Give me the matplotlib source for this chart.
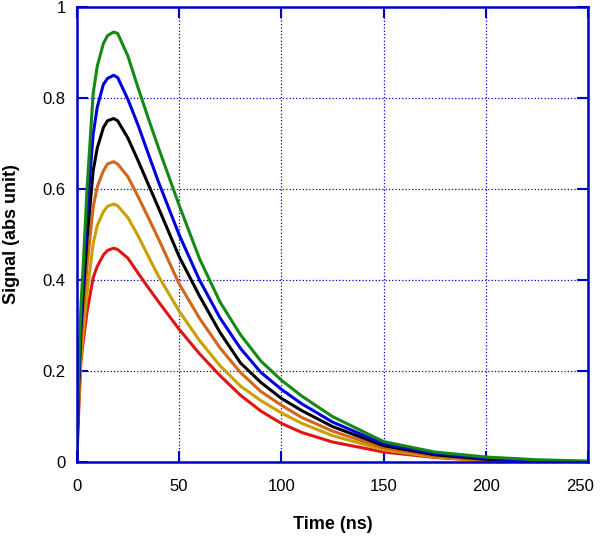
import numpy as np
import matplotlib.pyplot as plt
import matplotlib.transforms as mtrans

plt.rcParams['font.family'] = ['Liberation Sans', 'DejaVu Sans']

# time samples (ns)
t = [0, 1, 2, 3, 5, 8, 10, 13, 15, 18, 20, 25, 30, 35, 40, 50, 60, 70, 80,
     90, 100, 110, 125, 150, 175, 200, 225, 250]

red = [0, 0.12, 0.22, 0.26, 0.33, 0.405, 0.43, 0.455, 0.465, 0.47, 0.467,
       0.448, 0.415, 0.383, 0.352, 0.292, 0.238, 0.19, 0.147, 0.112, 0.085,
       0.065, 0.044, 0.022, 0.01, 0.003, 0.0, 0.0]
gold = [0, 0.14, 0.23, 0.28, 0.37, 0.48, 0.52, 0.55, 0.562, 0.567, 0.563,
        0.537, 0.497, 0.452, 0.408, 0.332, 0.267, 0.212, 0.167, 0.135, 0.108,
        0.085, 0.058, 0.027, 0.011, 0.003, 0.001, 0.0]
orange = [0, 0.16, 0.26, 0.32, 0.43, 0.56, 0.605, 0.64, 0.655, 0.66, 0.655,
          0.627, 0.583, 0.537, 0.49, 0.392, 0.316, 0.251, 0.197, 0.155, 0.125,
          0.098, 0.068, 0.031, 0.013, 0.004, 0.001, 0.0]
black = [0, 0.18, 0.29, 0.36, 0.49, 0.64, 0.69, 0.735, 0.75, 0.755, 0.75,
         0.712, 0.662, 0.61, 0.558, 0.452, 0.365, 0.285, 0.218, 0.175, 0.14,
         0.113, 0.078, 0.036, 0.016, 0.006, 0.002, 0.0]
blue = [0, 0.2, 0.31, 0.39, 0.55, 0.72, 0.78, 0.83, 0.843, 0.85, 0.845,
        0.797, 0.74, 0.677, 0.615, 0.5, 0.4, 0.317, 0.25, 0.197, 0.16,
        0.128, 0.088, 0.04, 0.019, 0.008, 0.003, 0.001]
green = [0, 0.22, 0.34, 0.42, 0.6, 0.81, 0.87, 0.92, 0.937, 0.945, 0.942,
         0.892, 0.822, 0.755, 0.69, 0.565, 0.447, 0.352, 0.28, 0.222, 0.18,
         0.145, 0.1, 0.045, 0.022, 0.011, 0.005, 0.002]

series = [red, gold, orange, black, blue, green]
colors = ['#e01515', '#c9a000', '#d2661a', '#000000', '#0000dd', '#138a13']

xticks = [0, 50, 100, 150, 200, 250]
yticks = [0, 0.2, 0.4, 0.6, 0.8, 1]
ytick_labels = ['0', '0.2', '0.4', '0.6', '0.8', '1']

fig = plt.figure(figsize=(6, 5.41), dpi=100)
ax = fig.add_axes([0.128, 0.146, 0.852, 0.841])

for y, c in zip(series, colors):
    ax.plot(t, y, color=c, lw=2.2)

frame = '#0000cc'
ax.set_xlim(0, 250)
ax.set_ylim(0, 1)
ax.set_xticks(xticks)
ax.set_xticklabels([str(v) for v in xticks])
ax.set_yticks(yticks)
ax.set_yticklabels(ytick_labels)
ax.grid(True, color=frame, linestyle=':', lw=0.9)
for s in ax.spines.values():
    s.set_color(frame)
    s.set_linewidth(1.8)
ax.tick_params(direction='in', length=8, width=1.5, color=frame,
               top=True, right=True, labelsize=12, pad=8)
ax.tick_params(axis='x', pad=12)

# the last x label sits against the right edge, nudge it in a bit
last = ax.get_xticklabels()[-1]
last.set_transform(last.get_transform() +
                   mtrans.ScaledTranslation(-6 / 72, 0, fig.dpi_scale_trans))

ax.set_xlabel('Time (ns)', fontsize=13, fontweight='bold', labelpad=16)
ax.set_ylabel('Signal (abs unit)', fontsize=13, fontweight='bold', labelpad=16)

fig.savefig('out.png', dpi=100)
